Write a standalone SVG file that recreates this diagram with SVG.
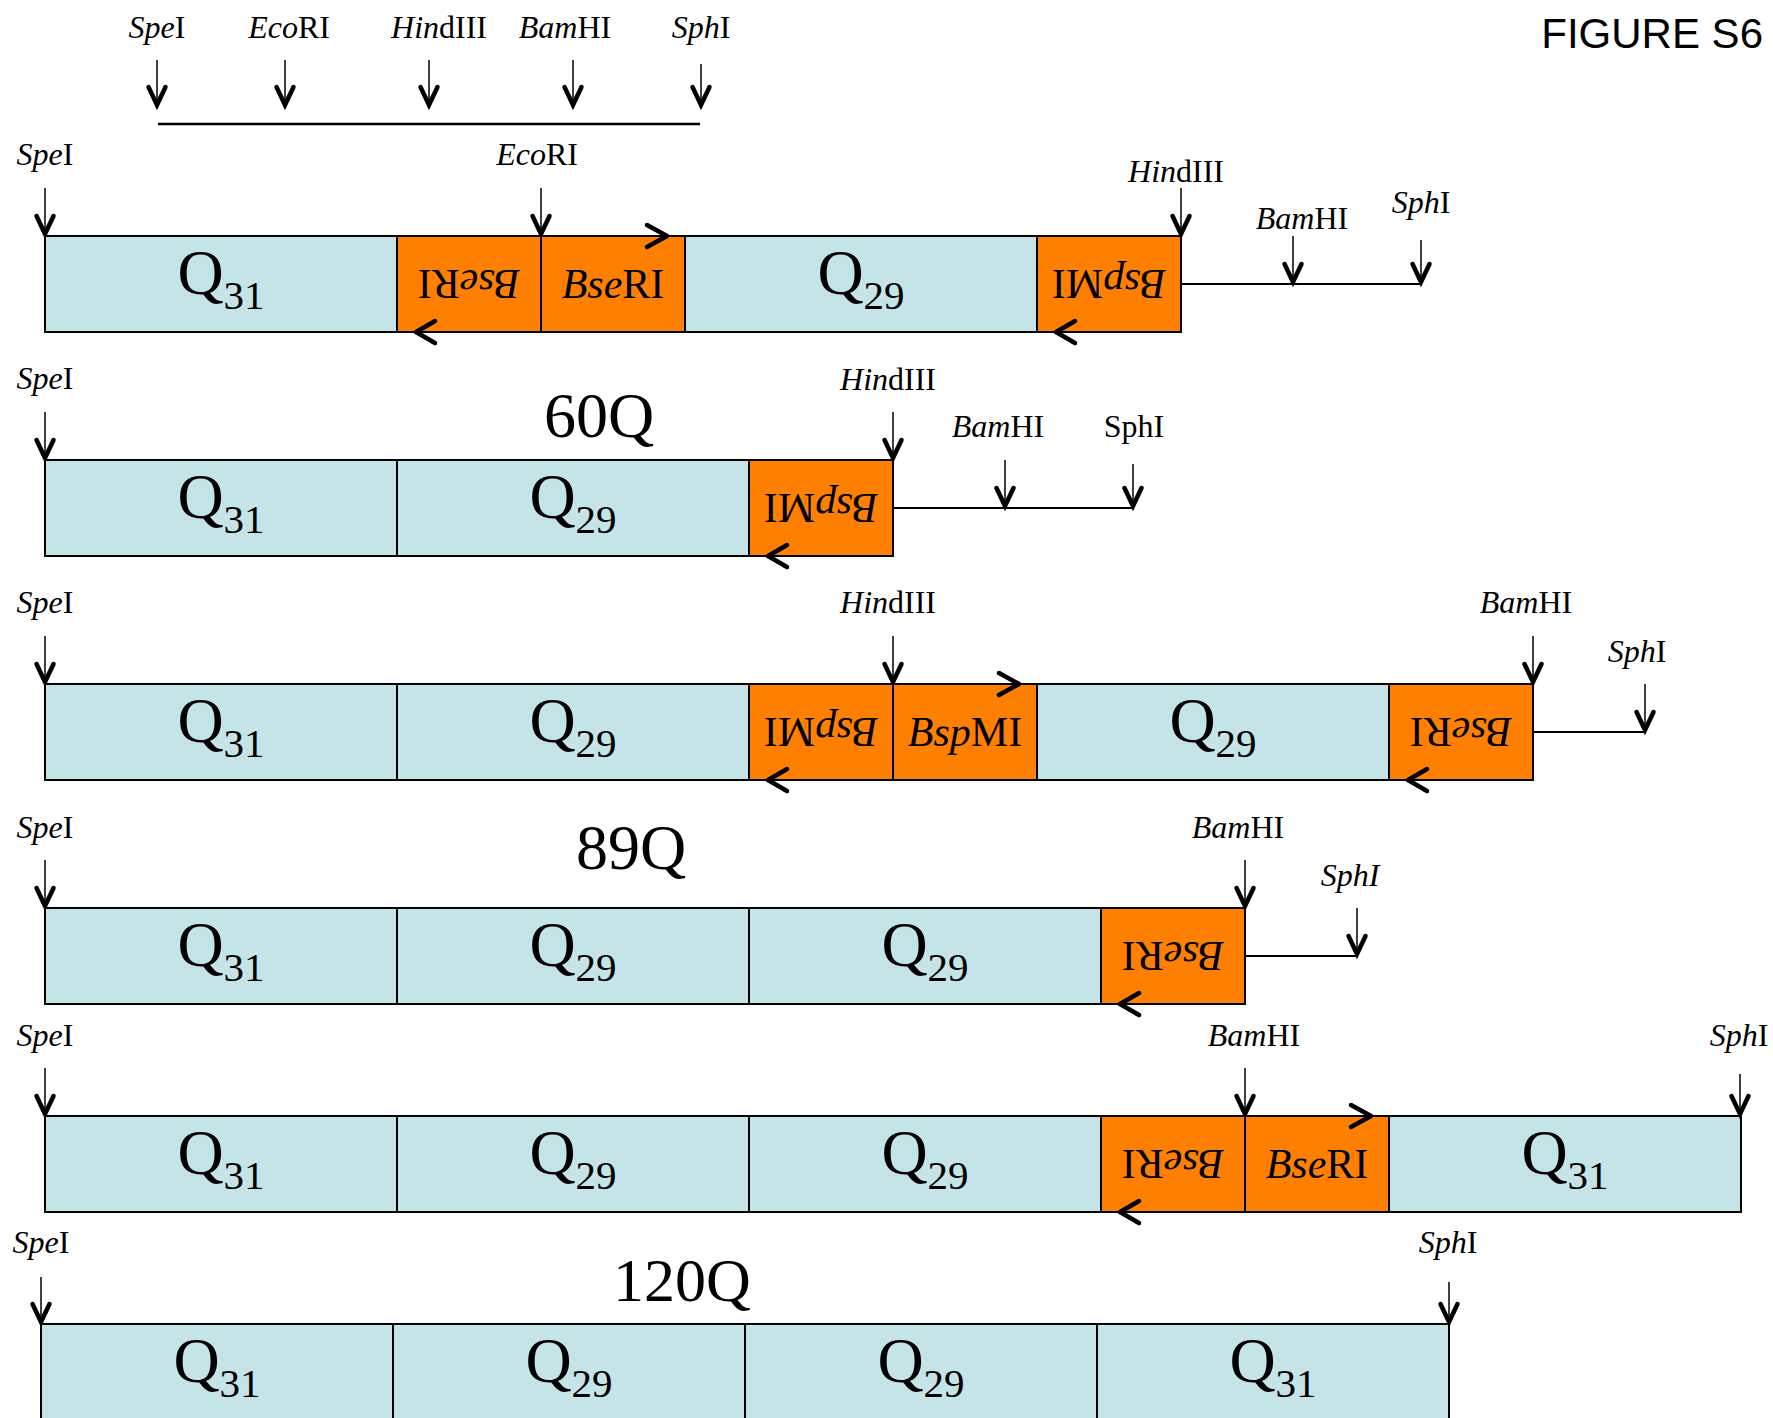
<svg xmlns="http://www.w3.org/2000/svg" xmlns:xlink="http://www.w3.org/1999/xlink" width="1773" height="1418" viewBox="0 0 1773 1418">
<style>
.q{fill:#C5E4E8;stroke:#000;stroke-width:2}
.o{fill:#FF8000;stroke:#000;stroke-width:2}
text{font-family:"Liberation Serif","Times New Roman",serif;fill:#000}
.ql{font-size:64px;text-anchor:middle}
.sub{font-size:41px}
.ol{font-size:42px;text-anchor:middle}
.lb{font-size:32px;text-anchor:middle}
.big{font-size:64px;text-anchor:middle}
.i{font-style:italic}
.fig{font-family:"Liberation Sans",Arial,sans-serif;font-size:42px;text-anchor:end}
.shaft{stroke:#000;stroke-width:1.5;fill:none}
.ah{stroke:#000;stroke-width:4.5;fill:none;stroke-linejoin:miter;stroke-linecap:round}
.chev{stroke:#000;stroke-width:4.5;fill:none;stroke-linecap:round;stroke-linejoin:round}
.tail{stroke:#000;stroke-width:2;fill:none}
</style>
<defs>
<path id="ah" class="ah" d="M-8.5,-20 L0,-2 L8.5,-20"/>
<path id="cf" class="chev" d="M-20,-11 L0,0 L-20,11"/>
<path id="cr" class="chev" d="M19,-11 L0,0 L19,11"/>
</defs>

<text id="figure-title" class="fig" x="1763" y="48">FIGURE S6</text>

<!-- top map -->
<g id="top-map">
<text class="lb" x="157" y="38"><tspan class="i">Spe</tspan>I</text>
<text class="lb" x="289" y="38"><tspan class="i">Eco</tspan>RI</text>
<text class="lb" x="439" y="38"><tspan class="i">Hin</tspan>dIII</text>
<text class="lb" x="565" y="38"><tspan class="i">Bam</tspan>HI</text>
<text class="lb" x="701" y="38"><tspan class="i">Sph</tspan>I</text>
</g>

<!-- Row 1 -->
<g id="row1">
<g id="r1c1"><rect class="q" x="45" y="236" width="352" height="96"/><text class="ql" x="221" y="294">Q<tspan class="sub" dy="15">31</tspan></text></g>
<g id="r1c2"><rect class="o" x="397" y="236" width="144" height="96"/><text class="ol" x="469" y="298" transform="rotate(180 469 284)"><tspan class="i">Bse</tspan>RI</text></g>
<g id="r1c3"><rect class="o" x="541" y="236" width="144" height="96"/><text class="ol" x="613" y="298"><tspan class="i">Bse</tspan>RI</text></g>
<g id="r1c4"><rect class="q" x="685" y="236" width="352" height="96"/><text class="ql" x="861" y="294">Q<tspan class="sub" dy="15">29</tspan></text></g>
<g id="r1c5"><rect class="o" x="1037" y="236" width="144" height="96"/><text class="ol" x="1109" y="298" transform="rotate(180 1109 284)"><tspan class="i">Bsp</tspan>MI</text></g>
<g id="r1-labels">
<text class="lb" x="45" y="165"><tspan class="i">Spe</tspan>I</text>
<text class="lb" x="537" y="165"><tspan class="i">Eco</tspan>RI</text>
<text class="lb" x="1176" y="182"><tspan class="i">Hin</tspan>dIII</text>
<text class="lb" x="1302" y="229"><tspan class="i">Bam</tspan>HI</text>
<text class="lb" x="1421" y="213"><tspan class="i">Sph</tspan>I</text>
</g>
</g>

<!-- Row 2 -->
<g id="row2">
<g id="r2c1"><rect class="q" x="45" y="460" width="352" height="96"/><text class="ql" x="221" y="518">Q<tspan class="sub" dy="15">31</tspan></text></g>
<g id="r2c2"><rect class="q" x="397" y="460" width="352" height="96"/><text class="ql" x="573" y="518">Q<tspan class="sub" dy="15">29</tspan></text></g>
<g id="r2c3"><rect class="o" x="749" y="460" width="144" height="96"/><text class="ol" x="821" y="522" transform="rotate(180 821 508)"><tspan class="i">Bsp</tspan>MI</text></g>
<g id="r2-labels">
<text class="big" x="599" y="437">60Q</text>
<text class="lb" x="45" y="389"><tspan class="i">Spe</tspan>I</text>
<text class="lb" x="888" y="390"><tspan class="i">Hin</tspan>dIII</text>
<text class="lb" x="998" y="437"><tspan class="i">Bam</tspan>HI</text>
<text class="lb" x="1134" y="437">SphI</text>
</g>
</g>

<!-- Row 3 -->
<g id="row3">
<g id="r3c1"><rect class="q" x="45" y="684" width="352" height="96"/><text class="ql" x="221" y="742">Q<tspan class="sub" dy="15">31</tspan></text></g>
<g id="r3c2"><rect class="q" x="397" y="684" width="352" height="96"/><text class="ql" x="573" y="742">Q<tspan class="sub" dy="15">29</tspan></text></g>
<g id="r3c3"><rect class="o" x="749" y="684" width="144" height="96"/><text class="ol" x="821" y="746" transform="rotate(180 821 732)"><tspan class="i">Bsp</tspan>MI</text></g>
<g id="r3c4"><rect class="o" x="893" y="684" width="144" height="96"/><text class="ol" x="965" y="746"><tspan class="i">Bsp</tspan>MI</text></g>
<g id="r3c5"><rect class="q" x="1037" y="684" width="352" height="96"/><text class="ql" x="1213" y="742">Q<tspan class="sub" dy="15">29</tspan></text></g>
<g id="r3c6"><rect class="o" x="1389" y="684" width="144" height="96"/><text class="ol" x="1461" y="746" transform="rotate(180 1461 732)"><tspan class="i">Bse</tspan>RI</text></g>
<g id="r3-labels">
<text class="lb" x="45" y="613"><tspan class="i">Spe</tspan>I</text>
<text class="lb" x="888" y="613"><tspan class="i">Hin</tspan>dIII</text>
<text class="lb" x="1526" y="613"><tspan class="i">Bam</tspan>HI</text>
<text class="lb" x="1637" y="662"><tspan class="i">Sph</tspan>I</text>
</g>
</g>

<!-- Row 4 -->
<g id="row4">
<g id="r4c1"><rect class="q" x="45" y="908" width="352" height="96"/><text class="ql" x="221" y="966">Q<tspan class="sub" dy="15">31</tspan></text></g>
<g id="r4c2"><rect class="q" x="397" y="908" width="352" height="96"/><text class="ql" x="573" y="966">Q<tspan class="sub" dy="15">29</tspan></text></g>
<g id="r4c3"><rect class="q" x="749" y="908" width="352" height="96"/><text class="ql" x="925" y="966">Q<tspan class="sub" dy="15">29</tspan></text></g>
<g id="r4c4"><rect class="o" x="1101" y="908" width="144" height="96"/><text class="ol" x="1173" y="970" transform="rotate(180 1173 956)"><tspan class="i">Bse</tspan>RI</text></g>
<g id="r4-labels">
<text class="big" x="631" y="869">89Q</text>
<text class="lb" x="45" y="838"><tspan class="i">Spe</tspan>I</text>
<text class="lb" x="1238" y="838"><tspan class="i">Bam</tspan>HI</text>
<text class="lb i" x="1350" y="886">SphI</text>
</g>
</g>

<!-- Row 5 -->
<g id="row5">
<g id="r5c1"><rect class="q" x="45" y="1116" width="352" height="96"/><text class="ql" x="221" y="1174">Q<tspan class="sub" dy="15">31</tspan></text></g>
<g id="r5c2"><rect class="q" x="397" y="1116" width="352" height="96"/><text class="ql" x="573" y="1174">Q<tspan class="sub" dy="15">29</tspan></text></g>
<g id="r5c3"><rect class="q" x="749" y="1116" width="352" height="96"/><text class="ql" x="925" y="1174">Q<tspan class="sub" dy="15">29</tspan></text></g>
<g id="r5c4"><rect class="o" x="1101" y="1116" width="144" height="96"/><text class="ol" x="1173" y="1178" transform="rotate(180 1173 1164)"><tspan class="i">Bse</tspan>RI</text></g>
<g id="r5c5"><rect class="o" x="1245" y="1116" width="144" height="96"/><text class="ol" x="1317" y="1178"><tspan class="i">Bse</tspan>RI</text></g>
<g id="r5c6"><rect class="q" x="1389" y="1116" width="352" height="96"/><text class="ql" x="1565" y="1174">Q<tspan class="sub" dy="15">31</tspan></text></g>
<g id="r5-labels">
<text class="lb" x="45" y="1046"><tspan class="i">Spe</tspan>I</text>
<text class="lb" x="1254" y="1046"><tspan class="i">Bam</tspan>HI</text>
<text class="lb" x="1739" y="1046"><tspan class="i">Sph</tspan>I</text>
</g>
</g>

<!-- Row 6 -->
<g id="row6">
<g id="r6c1"><rect class="q" x="41" y="1324" width="352" height="96"/><text class="ql" x="217" y="1382">Q<tspan class="sub" dy="15">31</tspan></text></g>
<g id="r6c2"><rect class="q" x="393" y="1324" width="352" height="96"/><text class="ql" x="569" y="1382">Q<tspan class="sub" dy="15">29</tspan></text></g>
<g id="r6c3"><rect class="q" x="745" y="1324" width="352" height="96"/><text class="ql" x="921" y="1382">Q<tspan class="sub" dy="15">29</tspan></text></g>
<g id="r6c4"><rect class="q" x="1097" y="1324" width="352" height="96"/><text class="ql" x="1273" y="1382">Q<tspan class="sub" dy="15">31</tspan></text></g>
<g id="r6-labels">
<text class="big" x="682" y="1301" style="font-size:62px">120Q</text>
<text class="lb" x="41" y="1253"><tspan class="i">Spe</tspan>I</text>
<text class="lb" x="1448" y="1253"><tspan class="i">Sph</tspan>I</text>
</g>
</g>

<!-- connectors -->
<g id="connectors">
<!-- top map -->
<line class="tail" x1="158" y1="124" x2="700" y2="124" style="stroke-width:2.5"/>
<line class="shaft" x1="157" y1="60" x2="157" y2="106"/><use xlink:href="#ah" x="157" y="107"/>
<line class="shaft" x1="285" y1="60" x2="285" y2="106"/><use xlink:href="#ah" x="285" y="107"/>
<line class="shaft" x1="429" y1="60" x2="429" y2="106"/><use xlink:href="#ah" x="429" y="107"/>
<line class="shaft" x1="573" y1="60" x2="573" y2="106"/><use xlink:href="#ah" x="573" y="107"/>
<line class="shaft" x1="701" y1="64" x2="701" y2="106"/><use xlink:href="#ah" x="701" y="107"/>
<!-- row 1 -->
<line class="tail" x1="1181" y1="284" x2="1421" y2="284"/>
<line class="shaft" x1="45" y1="188" x2="45" y2="235"/><use xlink:href="#ah" x="45" y="236"/>
<line class="shaft" x1="541" y1="188" x2="541" y2="235"/><use xlink:href="#ah" x="541" y="236"/>
<line class="shaft" x1="1181" y1="188" x2="1181" y2="235"/><use xlink:href="#ah" x="1181" y="236"/>
<line class="shaft" x1="1293" y1="236" x2="1293" y2="283"/><use xlink:href="#ah" x="1293" y="284"/>
<line class="shaft" x1="1421" y1="240" x2="1421" y2="283"/><use xlink:href="#ah" x="1421" y="284"/>
<use xlink:href="#cr" x="416" y="332"/>
<use xlink:href="#cf" x="667" y="236"/>
<use xlink:href="#cr" x="1056" y="332"/>
<!-- row 2 -->
<line class="tail" x1="893" y1="508" x2="1133" y2="508"/>
<line class="shaft" x1="45" y1="412" x2="45" y2="459"/><use xlink:href="#ah" x="45" y="460"/>
<line class="shaft" x1="893" y1="412" x2="893" y2="459"/><use xlink:href="#ah" x="893" y="460"/>
<line class="shaft" x1="1005" y1="460" x2="1005" y2="507"/><use xlink:href="#ah" x="1005" y="508"/>
<line class="shaft" x1="1133" y1="464" x2="1133" y2="507"/><use xlink:href="#ah" x="1133" y="508"/>
<use xlink:href="#cr" x="768" y="556"/>
<!-- row 3 -->
<line class="tail" x1="1533" y1="732" x2="1645" y2="732"/>
<line class="shaft" x1="45" y1="636" x2="45" y2="683"/><use xlink:href="#ah" x="45" y="684"/>
<line class="shaft" x1="893" y1="636" x2="893" y2="683"/><use xlink:href="#ah" x="893" y="684"/>
<line class="shaft" x1="1533" y1="636" x2="1533" y2="683"/><use xlink:href="#ah" x="1533" y="684"/>
<line class="shaft" x1="1645" y1="684" x2="1645" y2="731"/><use xlink:href="#ah" x="1645" y="732"/>
<use xlink:href="#cr" x="768" y="780"/>
<use xlink:href="#cf" x="1019" y="684"/>
<use xlink:href="#cr" x="1408" y="780"/>
<!-- row 4 -->
<line class="tail" x1="1245" y1="956" x2="1357" y2="956"/>
<line class="shaft" x1="45" y1="860" x2="45" y2="907"/><use xlink:href="#ah" x="45" y="908"/>
<line class="shaft" x1="1245" y1="860" x2="1245" y2="907"/><use xlink:href="#ah" x="1245" y="908"/>
<line class="shaft" x1="1357" y1="908" x2="1357" y2="955"/><use xlink:href="#ah" x="1357" y="956"/>
<use xlink:href="#cr" x="1120" y="1004"/>
<!-- row 5 -->
<line class="shaft" x1="45" y1="1068" x2="45" y2="1115"/><use xlink:href="#ah" x="45" y="1116"/>
<line class="shaft" x1="1245" y1="1068" x2="1245" y2="1115"/><use xlink:href="#ah" x="1245" y="1116"/>
<line class="shaft" x1="1740" y1="1074" x2="1740" y2="1115"/><use xlink:href="#ah" x="1740" y="1116"/>
<use xlink:href="#cr" x="1120" y="1212"/>
<use xlink:href="#cf" x="1371" y="1116"/>
<!-- row 6 -->
<line class="shaft" x1="41" y1="1277" x2="41" y2="1323"/><use xlink:href="#ah" x="41" y="1324"/>
<line class="shaft" x1="1449" y1="1282" x2="1449" y2="1323"/><use xlink:href="#ah" x="1449" y="1324"/>
</g>
</svg>
